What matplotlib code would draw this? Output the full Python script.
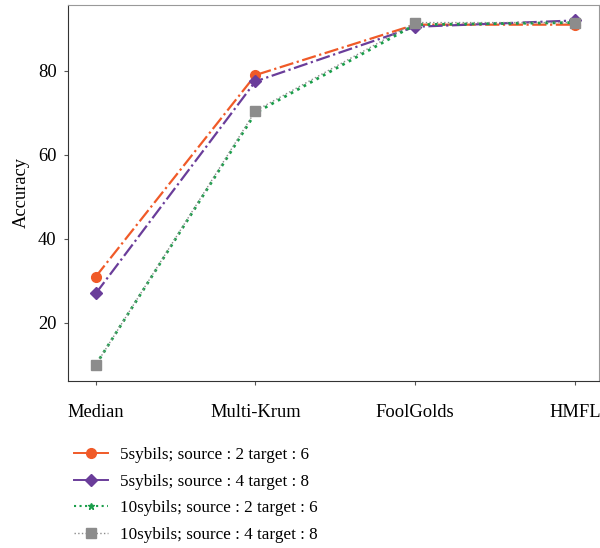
import matplotlib.pyplot as plt
from matplotlib.lines import Line2D

plt.rcParams['font.family'] = ['Liberation Serif', 'DejaVu Serif']

methods = ['Median', 'Multi-Krum', 'FoolGolds', 'HMFL']
acc_5_2_6 = [31, 79, 91, 91]
acc_5_4_8 = [27, 77.5, 90.5, 92]
acc_10_2_6 = [10, 70, 91, 91.5]
acc_10_4_8 = [10, 70.5, 91.5, 91.5]
labels = ['5sybils; source : 2 target : 6',
          '5sybils; source : 4 target : 8',
          '10sybils; source : 2 target : 6',
          '10sybils; source : 4 target : 8']

fig = plt.figure(figsize=(6, 5.48), dpi=100)
ax = fig.add_axes([0.113, 0.305, 0.885, 0.686])

x = range(len(methods))
ax.plot(x, acc_5_2_6, color='#f05a28', linestyle='-.', marker='o', markersize=7, lw=1.6)
ax.plot(x, acc_5_4_8, color='#6a3d9a', linestyle='-.', marker='D', markersize=6.5, lw=1.6)
ax.plot(x, acc_10_2_6, color='#1a9e4a', linestyle=':', marker='*', markersize=5, lw=2)
ax.plot(x, acc_10_4_8, color='#8c8c8c', linestyle=':', marker='s', markersize=6.5, lw=1)

ax.set_xticks(list(x))
ax.set_xticklabels(methods, fontsize=13.3)
ax.set_yticks([20, 40, 60, 80])
ax.tick_params(axis='y', labelsize=13.3, length=3, color='#555555', pad=5)
ax.tick_params(axis='x', labelsize=13.3, length=3, color='#555555', pad=14)
ax.set_xlim(-0.175, 3.15)
ax.set_ylim(6.2, 95.7)
ax.set_ylabel('Accuracy', fontsize=13.3, labelpad=6)
for s in ['left', 'bottom']:
    ax.spines[s].set_color('#333333')
for s in ['top', 'right']:
    ax.spines[s].set_color('#999999')

handles = [
    Line2D([], [], color='#f05a28', marker='o', markersize=7, lw=1.4),
    Line2D([], [], color='#6a3d9a', marker='D', markersize=6.5, lw=1.4),
    Line2D([], [], color='#1a9e4a', marker='*', markersize=5, lw=1.5, linestyle=':'),
    Line2D([], [], color='#8c8c8c', marker='s', markersize=6.5, lw=1, linestyle=':'),
]
fig.legend(handles, labels, loc='upper left', bbox_to_anchor=(0.097, 0.212),
           frameon=False, fontsize=12.3, handlelength=2.0, handletextpad=0.7,
           labelspacing=0.62)

fig.savefig('out.png', dpi=100)
